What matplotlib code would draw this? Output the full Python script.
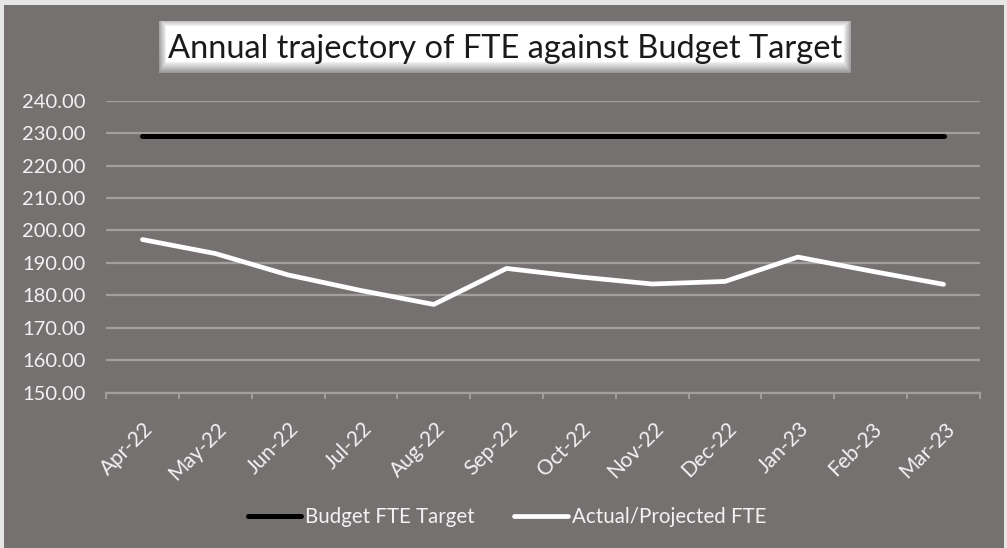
import numpy as np
import matplotlib.pyplot as plt
import matplotlib.transforms as mtransforms
from matplotlib.patches import Rectangle

# chart data
months = ['Apr-22', 'May-22', 'Jun-22', 'Jul-22', 'Aug-22', 'Sep-22',
          'Oct-22', 'Nov-22', 'Dec-22', 'Jan-23', 'Feb-23', 'Mar-23']
budget_fte = [229.0] * 12
actual_fte = [197.2, 192.9, 186.3, 181.5, 177.2, 188.3,
              185.7, 183.5, 184.3, 191.8, 187.5, 183.4]
y_ticks = [150, 160, 170, 180, 190, 200, 210, 220, 230, 240]

BG = '#767171'
GRID = '#a29f9d'
TXT = '#f2f2f2'

plt.rcParams['font.family'] = ['Lato', 'DejaVu Sans']

W, H = 1007, 548
fig = plt.figure(figsize=(W / 100, H / 100), dpi=100, facecolor='#e6e6e6')

# chart area (grey panel with thin light border)
fig.patches.append(Rectangle((4 / W, 0), 1000 / W, (H - 5) / H,
                             transform=fig.transFigure, facecolor=BG,
                             edgecolor='none', zorder=-10))

ax = fig.add_axes([106 / W, 1 - 392.7 / H, 874 / W, 292 / H])
ax.set_facecolor(BG)
x = np.arange(len(months))

ax.plot(x, budget_fte, color='black', lw=3.6, solid_capstyle='round',
        label='Budget FTE Target', zorder=3)
ax.plot(x, actual_fte, color='white', lw=3.4, solid_capstyle='round',
        solid_joinstyle='round', label='Actual/Projected FTE', zorder=4)

ax.set_xlim(-0.5, len(months) - 0.5)
ax.set_ylim(150, 240)
ax.set_yticks(y_ticks)
ax.set_yticklabels([f'{v:.2f}' for v in y_ticks], color=TXT, fontsize=14.5)
ax.yaxis.grid(True, color=GRID, lw=1.6)
ax.set_axisbelow(True)
ax.tick_params(axis='y', length=0, pad=14.5)

for s in ['top', 'right', 'left']:
    ax.spines[s].set_visible(False)
ax.spines['bottom'].set_color(GRID)
ax.spines['bottom'].set_linewidth(1.6)

ax.set_xticks(x)
ax.set_xticks(np.arange(-0.5, len(months)), minor=True)
ax.tick_params(axis='x', which='major', length=0, pad=18.5)
ax.tick_params(axis='x', which='minor', length=4, width=1.4, color=GRID)
ax.set_xticklabels(months, rotation=45, ha='right', va='top',
                   rotation_mode='anchor', color=TXT, fontsize=15)
offset = mtransforms.ScaledTranslation(1 / 100, 0, fig.dpi_scale_trans)
for lab in ax.get_xticklabels():
    lab.set_transform(lab.get_transform() + offset)

# title box with bevelled gradient
tx0, tx1, ty0, ty1 = 159, 851, 21, 73
tax = fig.add_axes([tx0 / W, 1 - ty1 / H, (tx1 - tx0) / W, (ty1 - ty0) / H])
bw, bh = tx1 - tx0, ty1 - ty0
xx, yy = np.meshgrid(np.arange(bw), np.arange(bh))
d = np.minimum.reduce([xx + 1.0, bw - xx, yy + 3.0, (bh - yy) * 0.7])
shade = 0.62 + 0.38 * np.clip(d / 8.0, 0, 1)
shade = shade - 0.06 * (yy / bh) * (d < 8)
tax.imshow(np.dstack([shade] * 3), aspect='auto', interpolation='bilinear')
tax.axis('off')
tax.text(0.5, 0.47, 'Annual trajectory of FTE against Budget Target',
         transform=tax.transAxes, ha='center', va='center',
         fontsize=23.5, color='#1a1a1a')

fig.legend(loc='center', bbox_to_anchor=(507 / W, 1 - 517 / H), ncol=2,
           frameon=False, fontsize=14.8, labelcolor=TXT, handlelength=2.6,
           handletextpad=0.2, columnspacing=1.9)

fig.savefig('out.png', dpi=100, facecolor=fig.get_facecolor())
